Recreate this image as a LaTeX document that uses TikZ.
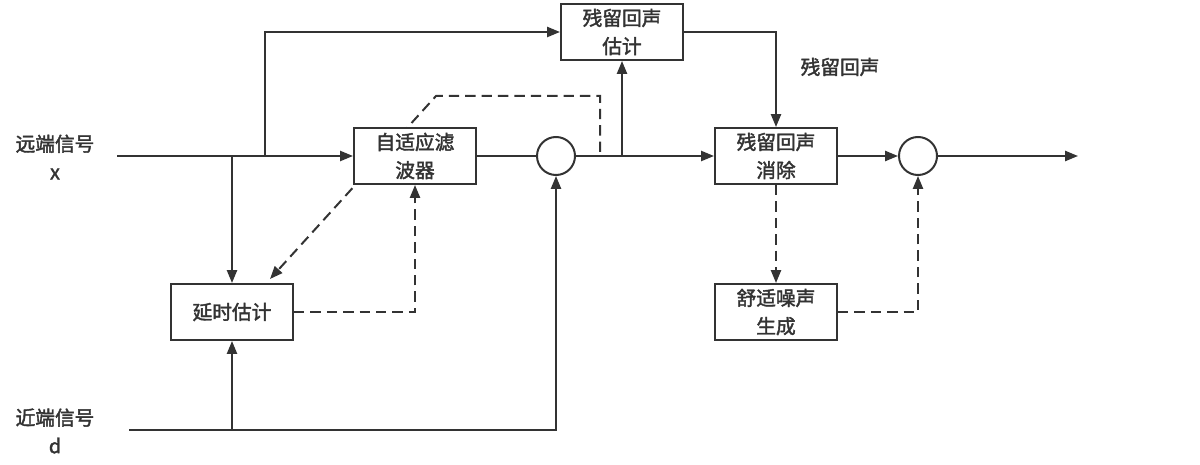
\documentclass[tikz,border=0pt]{standalone}
\usepackage{fontspec}
\usepackage{tikz}
\usetikzlibrary{arrows.meta,backgrounds}
\newfontfamily\cjk{Noto Sans CJK SC}[FakeBold=2]
\definecolor{cLn}{RGB}{51,51,51}
\tikzset{
  blk/.style={draw=cLn,fill=white,line width=0.05cm,minimum width=3.05cm,minimum height=1.4cm,inner sep=0pt,align=center,text=cLn,font=\cjk\fontsize{14}{20}\selectfont},
  sumpt/.style={draw=cLn,fill=white,circle,line width=0.05cm,minimum size=0.95cm,inner sep=0pt},
  lbl/.style={align=center,text=cLn,font=\cjk\fontsize{14}{20}\selectfont},
  sig/.style={draw=cLn,line width=0.05cm},
  arr/.style={sig,-{Triangle[length=3.2mm,width=2.5mm]}},
  dsh/.style={dash pattern=on 2.6mm off 1.5mm}
}

\begin{document}
\begin{tikzpicture}[x=0.025cm,y=-0.025cm]
\useasboundingbox (0,0) rectangle (1200,465);
\node[lbl] (far) at (55,157) {远端信号\\x};
\node[lbl] (near) at (55,431) {近端信号\\d};
\node[lbl] (res) at (840,67) {残留回声};
\node[blk] (filt) at (415,156) {自适应滤\\波器};
\node[blk] (est) at (622,32) {残留回声\\估计};
\node[blk] (nlp) at (776,156) {残留回声\\消除};
\node[blk] (cng) at (776,312) {舒适噪声\\生成};
\node[blk] (dly) at (232,312) {延时估计};
\node[sumpt] (sum1) at (556,156) {};
\node[sumpt] (sum2) at (918,156) {};
\coordinate (xin) at (117,156);
\coordinate (dout) at (129,430);
\coordinate (out) at (1078,156);
\coordinate (bx1) at (265,156);
\coordinate (bx2) at (232,156);
\coordinate (bd) at (232,430);
\coordinate (tap) at (622,156);
\coordinate (etap) at (600,152);
\coordinate (ecnr) at (436,96);
\coordinate (dtip) at (270,279);
\begin{pgfonlayer}{background}
\draw[arr,dsh] (etap) |- (ecnr) -- (dtip);
\end{pgfonlayer}
\draw[arr] (xin) -- (filt.west);
\draw[arr] (bx1) |- (est.west);
\draw[arr] (bx2) -- (dly.north);
\draw[sig] (filt.east) -- (sum1.west);
\draw[arr] (sum1.east) -- (nlp.west);
\draw[arr] (tap) -- (est.south);
\draw[arr] (est.east) -| (nlp.north);
\draw[arr] (nlp.east) -- (sum2.west);
\draw[arr] (sum2.east) -- (out);
\draw[arr,dsh] (nlp.south) -- (cng.north);
\draw[arr,dsh] (cng.east) -| (sum2.south);
\draw[arr,dsh] (dly.east) -| (filt.south);
\draw[arr] (dout) -| (sum1.south);
\draw[arr] (bd) -- (dly.south);
\end{tikzpicture}
\end{document}
